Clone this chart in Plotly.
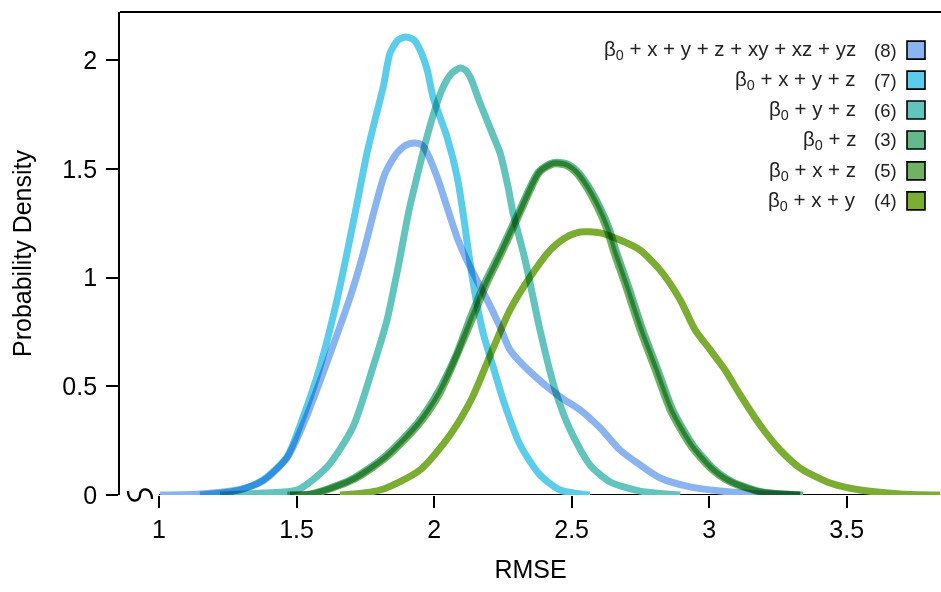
import plotly.graph_objects as go

# ---------------- data ----------------
labels = ["β<sub>0</sub> + x + y + z + xy + xz + yz", "β<sub>0</sub> + x + y + z",
          "β<sub>0</sub> + y + z", "β<sub>0</sub> + z", "β<sub>0</sub> + x + z", "β<sub>0</sub> + x + y"]
counts = ["(8)", "(7)", "(6)", "(3)", "(5)", "(4)"]
colors = ["#8ab4f0", "#5bcdea", "#62c4bd", "#63b98a", "#6fb262", "#7aad31"]

x8 = [1.004, 1.149, 1.284, 1.378, 1.465, 1.531, 1.593, 1.700, 1.740, 1.785, 1.822, 1.865, 1.898,
      1.931, 1.956, 1.975, 2.011, 2.047, 2.087, 2.131, 2.193, 2.240, 2.276, 2.349, 2.458, 2.531, 2.604,
      2.676, 2.749, 2.822, 2.931, 3.040, 3.185, 3.331]
y8 = [0.0, 0.005, 0.023, 0.064, 0.170, 0.345, 0.550, 0.930, 1.100, 1.320, 1.480, 1.572, 1.609,
      1.618, 1.609, 1.572, 1.462, 1.324, 1.172, 1.048, 0.897, 0.772, 0.667, 0.566, 0.451, 0.391, 0.308,
      0.207, 0.138, 0.078, 0.037, 0.018, 0.005, 0.0]

x7 = [1.149, 1.295, 1.378, 1.465, 1.524, 1.585, 1.647, 1.713, 1.756, 1.785, 1.815, 1.840, 1.869,
      1.898, 1.927, 1.949, 1.975, 1.996, 2.047, 2.084, 2.102, 2.142, 2.178, 2.215, 2.251, 2.313, 2.385,
      2.458, 2.567]
y7 = [0.0, 0.023, 0.069, 0.175, 0.359, 0.589, 0.897, 1.297, 1.572, 1.724, 1.876, 2.032, 2.092,
      2.106, 2.092, 2.046, 1.954, 1.830, 1.646, 1.462, 1.324, 0.975, 0.745, 0.589, 0.437, 0.230, 0.092,
      0.023, 0.0]

x6 = [1.222, 1.378, 1.502, 1.611, 1.705, 1.778, 1.829, 1.873, 1.909, 1.942, 1.971, 2.000, 2.033, 2.065,
      2.095, 2.113, 2.131, 2.167, 2.211, 2.240, 2.269, 2.287, 2.331, 2.385, 2.440, 2.495, 2.567, 2.640,
      2.749, 2.895]
y6 = [0.0, 0.009, 0.023, 0.129, 0.313, 0.589, 0.805, 1.072, 1.310, 1.485, 1.632, 1.761, 1.876, 1.940,
      1.963, 1.954, 1.922, 1.802, 1.664, 1.572, 1.416, 1.297, 1.080, 0.759, 0.483, 0.299, 0.138, 0.060,
      0.018, 0.0]

x3 = [1.466, 1.550, 1.695, 1.819, 1.939, 2.012, 2.080, 2.132, 2.184, 2.243, 2.306, 2.380, 2.433, 2.480,
      2.520, 2.557, 2.603, 2.639, 2.661, 2.705, 2.759, 2.814, 2.868, 2.941, 3.014, 3.086, 3.195, 3.341]
y3 = [0.0, 0.005, 0.069, 0.175, 0.331, 0.469, 0.644, 0.818, 0.975, 1.126, 1.297, 1.487, 1.528, 1.524,
      1.490, 1.428, 1.324, 1.218, 1.126, 0.966, 0.759, 0.575, 0.391, 0.230, 0.124, 0.060, 0.014, 0.0]

x5 = [1.476, 1.560, 1.705, 1.829, 1.949, 2.022, 2.084, 2.142, 2.193, 2.251, 2.313, 2.385, 2.433, 2.476,
      2.513, 2.549, 2.593, 2.629, 2.651, 2.695, 2.749, 2.804, 2.858, 2.931, 3.004, 3.076, 3.185, 3.331]
y5 = [0.0, 0.005, 0.069, 0.175, 0.331, 0.469, 0.644, 0.818, 0.975, 1.126, 1.297, 1.485, 1.522, 1.517,
      1.485, 1.425, 1.324, 1.218, 1.126, 0.966, 0.759, 0.575, 0.391, 0.230, 0.124, 0.060, 0.014, 0.0]

x4 = [1.658, 1.804, 1.949, 2.058, 2.138, 2.215, 2.276, 2.349, 2.422, 2.476, 2.531, 2.604, 2.676, 2.749,
      2.822, 2.895, 2.949, 3.004, 3.058, 3.113, 3.185, 3.258, 3.331, 3.440, 3.549, 3.695, 3.840]
y4 = [0.0, 0.023, 0.115, 0.276, 0.446, 0.676, 0.851, 1.002, 1.126, 1.182, 1.209, 1.205, 1.172, 1.126,
      1.034, 0.897, 0.759, 0.667, 0.575, 0.460, 0.322, 0.207, 0.124, 0.055, 0.023, 0.005, 0.0]

x_ticks = [1, 1.5, 2, 2.5, 3, 3.5]
y_ticks = [0, 0.5, 1, 1.5, 2]

series = [(x8, y8), (x7, y7), (x6, y6), (x3, y3), (x5, y5), (x4, y4)]

FONT = "Liberation Sans, Arial, sans-serif"
X_RANGE = [0.858, 3.843]
Y_RANGE = [0, 2.2207]

fig = go.Figure()
for (xs, ys), col, lab in zip(series, colors, counts):
    fig.add_trace(go.Scatter(x=xs, y=ys, mode="lines", name=lab,
                             line=dict(color=col, width=7, shape="spline", smoothing=0.7),
                             showlegend=False, hoverinfo="skip"))

# custom legend
row_y = [0.921, 0.859, 0.797, 0.735, 0.671, 0.609]
for lab, cnt, col, ry in zip(labels, counts, colors, row_y):
    fig.add_annotation(xref="paper", yref="paper", x=0.899, y=ry, text=lab, showarrow=False,
                       xanchor="right", yanchor="middle", font=dict(family=FONT, size=20.5, color="#222"))
    fig.add_annotation(xref="paper", yref="paper", x=0.932, y=ry, text=cnt, showarrow=False,
                       xanchor="center", yanchor="middle", font=dict(family=FONT, size=18.5, color="#222"))
    fig.add_shape(type="rect", xref="paper", yref="paper", x0=0.9586, x1=0.9805,
                  y0=ry - 0.0186, y1=ry + 0.0186, fillcolor=col, line=dict(color="black", width=1.6))

# top border and broken x axis line
fig.add_shape(type="line", xref="paper", yref="paper", x0=0, x1=1, y0=1, y1=1,
              line=dict(color="black", width=1.8))
fig.add_shape(type="line", xref="x", yref="y", x0=x_ticks[0], x1=3.829, y0=0, y1=0,
              line=dict(color="black", width=1.8), layer="below")
# axis-break squiggle
fig.add_shape(type="path", xref="paper", yref="paper", xsizemode="pixel", ysizemode="pixel",
              xanchor=(140 - 120) / 821, yanchor=0,
              path="M -12,4 C -12,-8 0,-8 0,0 C 0,8 12,8 12,-4",
              line=dict(color="black", width=2.4))

fig.update_layout(
    width=941, height=592,
    margin=dict(l=120, r=0, t=12, b=97),
    paper_bgcolor="white", plot_bgcolor="white",
    font=dict(family=FONT, size=25, color="black"),
    xaxis=dict(range=X_RANGE, tickvals=x_ticks, ticktext=[f"{v:g}" for v in x_ticks],
               showline=False, showgrid=False, zeroline=False, ticks="outside", ticklen=12,
               tickwidth=1.8, tickcolor="black", tickfont=dict(size=25),
               title=dict(text="RMSE", font=dict(size=25), standoff=18)),
    yaxis=dict(range=Y_RANGE, tickvals=y_ticks, ticktext=[f"{v:g}" for v in y_ticks],
               showline=True, linecolor="black", linewidth=1.8, showgrid=False, zeroline=False,
               ticks="outside", ticklen=12, tickwidth=1.8, tickcolor="black", tickfont=dict(size=25),
               ticklabelstandoff=4,
               title=dict(text="Probability Density", font=dict(size=25), standoff=24)),
)

js = """
var gd = document.getElementById('{plot_id}');
function setBlend(){
  gd.querySelectorAll('.scatterlayer .js-line').forEach(function(p){ p.style.mixBlendMode = 'multiply'; });
}
setBlend();
gd.on('plotly_afterplot', setBlend);
"""
fig.write_html("out.html", post_script=js)
